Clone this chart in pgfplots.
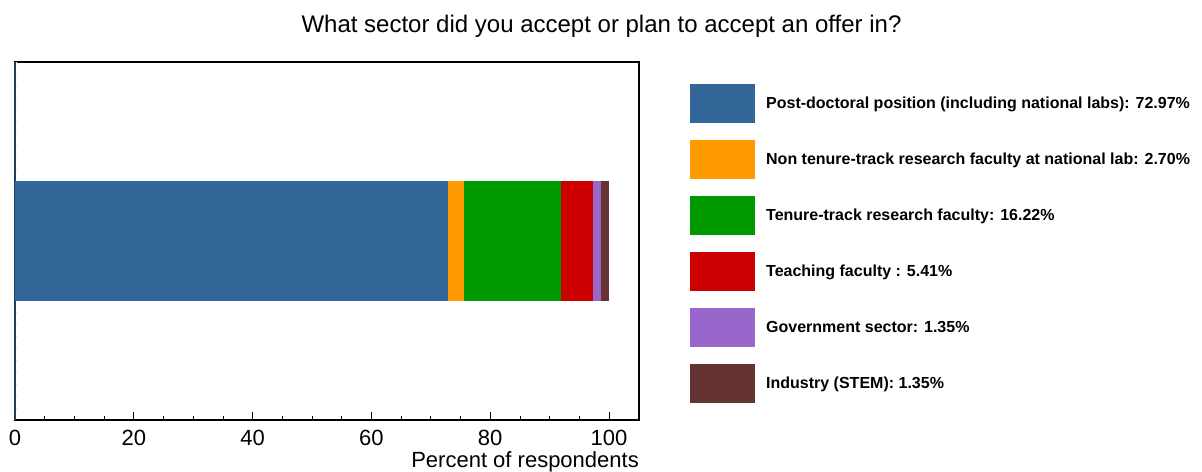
\documentclass[border=0pt]{standalone}
\usepackage{pgfplots}
\pgfplotsset{compat=1.18}
\usepackage{fontspec}
\setmainfont{Liberation Sans}
\definecolor{cA}{HTML}{336699}
\definecolor{cB}{HTML}{FF9900}
\definecolor{cC}{HTML}{009900}
\definecolor{cD}{HTML}{CC0000}
\definecolor{cE}{HTML}{9966CC}
\definecolor{cF}{HTML}{663333}
\begin{document}
\begin{tikzpicture}[x=1pt,y=1pt]
\path (0,0) rectangle (1202,470);
\node[font=\fontsize{24}{26}\selectfont, anchor=base] at (601.5,437) {What sector did you accept or plan to accept an offer in?};
\begin{axis}[
  at={(15pt,50pt)}, anchor=south west,
  scale only axis, width=624pt, height=358pt,
  xbar stacked, bar width=120pt,
  xmin=0, xmax=105.05, ymin=-1.5, ymax=1.5,
  xtick={0,20,40,60,80,100}, minor x tick num=3,
  xtick pos=bottom, ytick pos=left, tick align=inside,
  major tick length=8pt, minor tick length=4pt,
  ytick=\empty,
  extra y ticks={-1.4,-1.3,...,1.45}, extra y tick labels={},
  extra y tick style={major tick length=2.5pt, ytick style={draw=cA!22, line width=0.5pt}},
  axis line style={line width=1.2pt},
  xtick style={black, line width=0.8pt},
  /pgf/number format/assume math mode=true,
  xticklabel style={font=\fontsize{22}{24}\selectfont, inner sep=0pt, yshift=-10pt},
  legend style={at={(rel axis cs:1.0817,0.9385)}, anchor=north west, draw=none, fill=none, inner sep=0pt,
     font=\bfseries\fontsize{16}{18}\selectfont, row sep=17pt, cells={anchor=west}},
  legend image code/.code={\fill[#1] (0pt,-19.5pt) rectangle (65pt,19.5pt);},
  legend cell align=left,
  clip=false,
]
\addplot[fill=cA, draw=none] coordinates {(72.97,0)};
\addlegendentry{\hspace{9pt}Post-doctoral position (including national labs): 72.97\%}
\addplot[fill=cB, draw=none] coordinates {(2.70,0)};
\addlegendentry{\hspace{9pt}Non tenure-track research faculty at national lab: 2.70\%}
\addplot[fill=cC, draw=none] coordinates {(16.22,0)};
\addlegendentry{\hspace{9pt}Tenure-track research faculty: 16.22\%}
\addplot[fill=cD, draw=none] coordinates {(5.41,0)};
\addlegendentry{\hspace{9pt}Teaching faculty : 5.41\%}
\addplot[fill=cE, draw=none] coordinates {(1.35,0)};
\addlegendentry{\hspace{9pt}Government sector: 1.35\%}
\addplot[fill=cF, draw=none] coordinates {(1.35,0)};
\addlegendentry{\hspace{9pt}Industry (STEM): 1.35\%}
\draw[color=cA!60!black, line width=1.2pt] (rel axis cs:0,0) -- (rel axis cs:0,1);
\node[anchor=east, inner sep=0pt, font=\fontsize{22}{24}\selectfont] at ([yshift=-41.5pt]rel axis cs:1,0) {Percent of respondents};
\end{axis}
\end{tikzpicture}
\end{document}
